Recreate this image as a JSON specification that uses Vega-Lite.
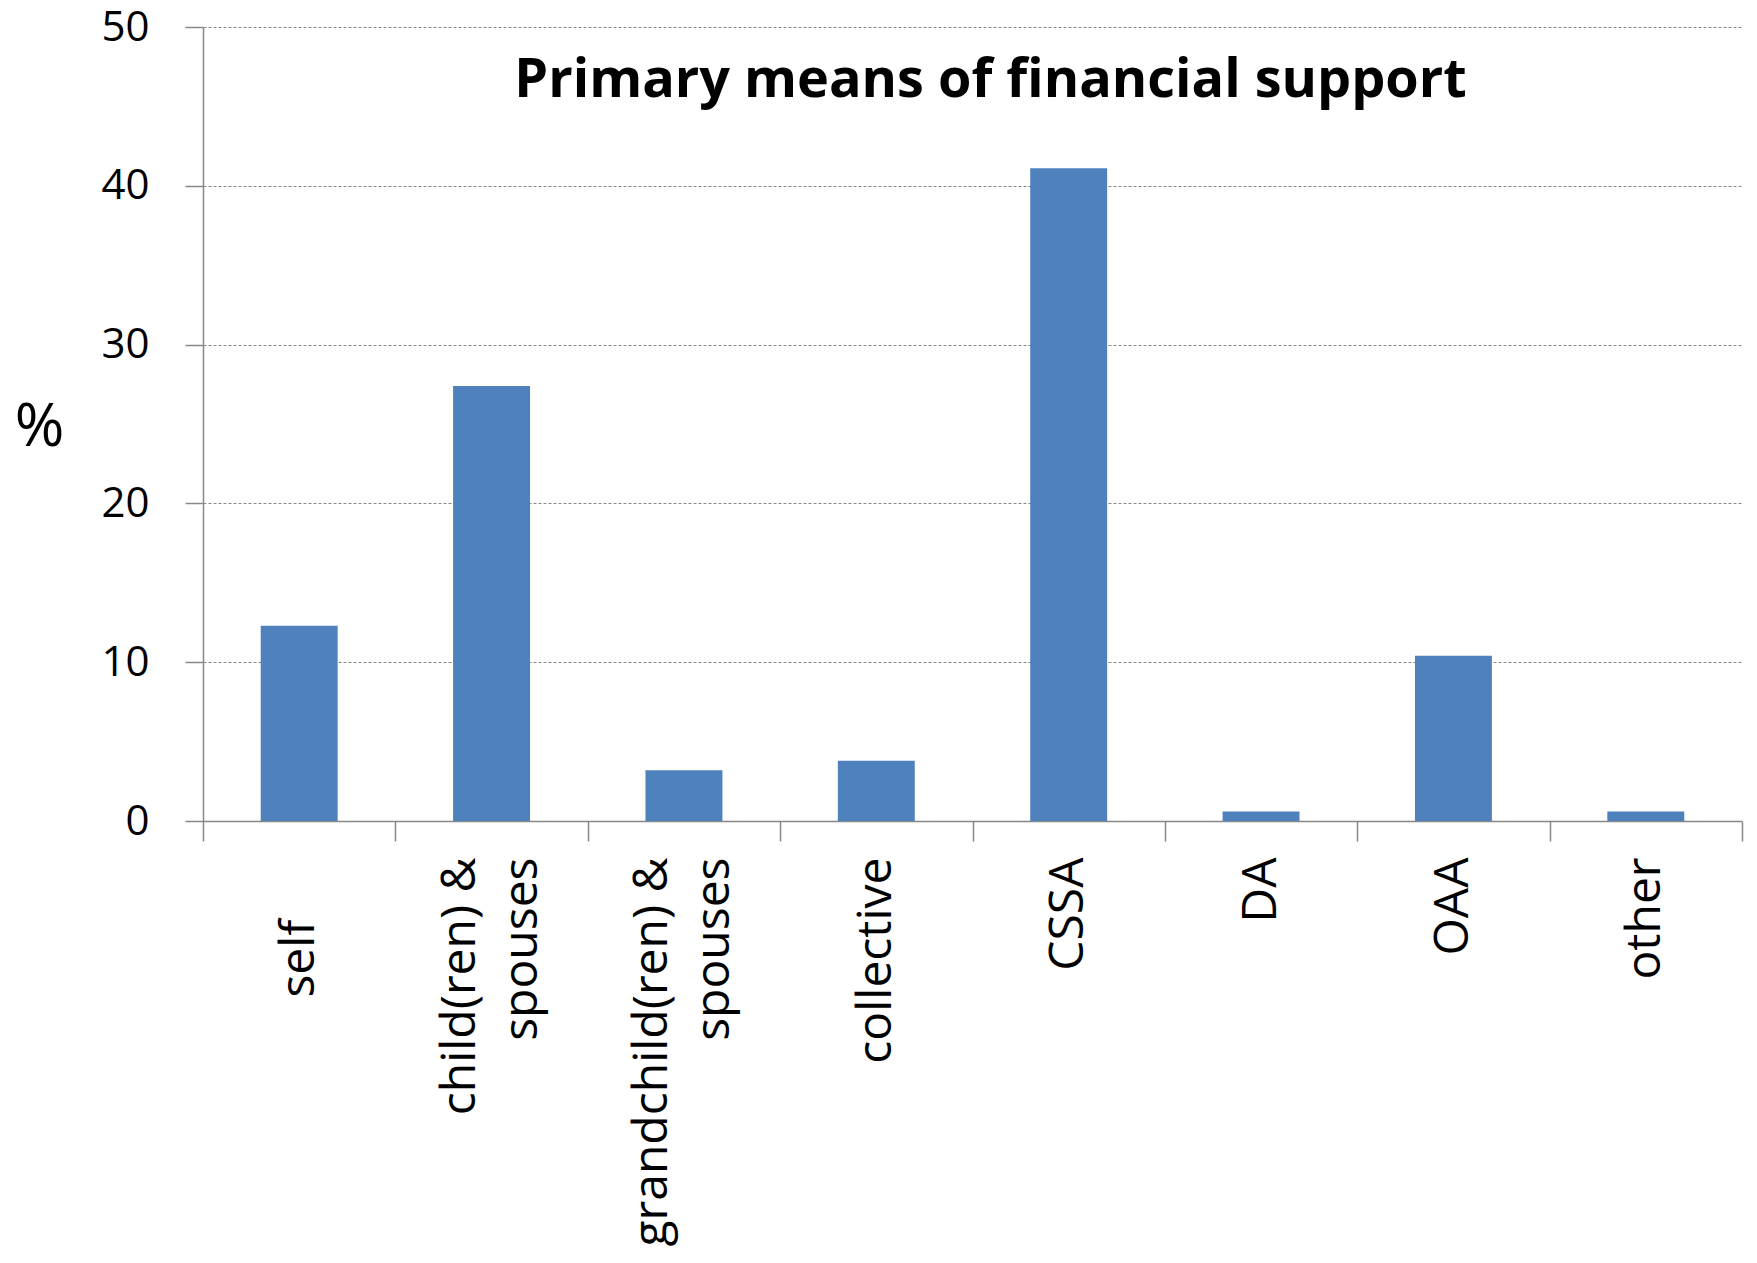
{
  "$schema": "https://vega.github.io/schema/vega-lite/v6.json",
  "autosize": "none",
  "width": 1539,
  "height": 794,
  "padding": {"left": 203, "top": 27, "right": 15, "bottom": 442},
  "background": "white",
  "title": {
    "text": "Primary means of financial support",
    "font": "Open Sans",
    "fontWeight": "bold",
    "fontSize": 54,
    "color": "black",
    "anchor": "middle",
    "frame": "group",
    "offset": -102,
    "dx": 18
  },
  "data": {
    "values": [
      {"source": "self", "pct": 12.3},
      {"source": "child(ren) & spouses", "pct": 27.4},
      {"source": "grandchild(ren) & spouses", "pct": 3.2},
      {"source": "collective", "pct": 3.8},
      {"source": "CSSA", "pct": 41.1},
      {"source": "DA", "pct": 0.6},
      {"source": "OAA", "pct": 10.4},
      {"source": "other", "pct": 0.6}
    ]
  },
  "mark": {"type": "bar", "color": "#4F81BD", "width": {"band": 0.4}},
  "encoding": {
    "x": {
      "field": "source",
      "type": "nominal",
      "sort": null,
      "scale": {"paddingInner": 0, "paddingOuter": 0},
      "axis": {
        "title": null,
        "labelAngle": -90,
        "labelAlign": "right",
        "labelBaseline": "middle",
        "labelFont": "Open Sans",
        "labelFontSize": 48,
        "labelColor": "black",
        "labelPadding": {"condition": {"test": "datum.label == 'self'", "value": 78}, "value": 16},
        "labelOffset": {"condition": {"test": "indexof(datum.label, 'spouses') >= 0", "value": -31}, "value": 0},
        "labelLineHeight": 62,
        "labelLimit": 0,
        "labelExpr": "datum.label == 'child(ren) & spouses' ? ['child(ren) &', 'spouses'] : datum.label == 'grandchild(ren) & spouses' ? ['grandchild(ren) &', 'spouses'] : datum.label",
        "tickBand": "extent",
        "tickSize": 20,
        "tickColor": "#888888",
        "domainColor": "#888888",
        "domainWidth": 1.5,
        "tickWidth": 1.5,
        "grid": false
      }
    },
    "y": {
      "field": "pct",
      "type": "quantitative",
      "scale": {"domain": [0, 50]},
      "axis": {
        "title": "%",
        "titleAngle": 0,
        "titleFont": "Open Sans",
        "titleFontSize": 60,
        "titleFontWeight": "normal",
        "titleColor": "black",
        "titleX": -164,
        "titleY": 400,
        "titleAlign": "center",
        "titleBaseline": "middle",
        "values": [0, 10, 20, 30, 40, 50],
        "labelFont": "Open Sans",
        "labelFontSize": 42,
        "labelColor": "black",
        "labelPadding": 36,
        "tickSize": 18,
        "tickColor": "#888888",
        "tickWidth": 1.5,
        "domainColor": "#888888",
        "domainWidth": 1.5,
        "grid": true,
        "gridColor": "#888888",
        "gridDash": [3, 2],
        "gridWidth": 1
      }
    }
  },
  "config": {"view": {"stroke": null}}
}
